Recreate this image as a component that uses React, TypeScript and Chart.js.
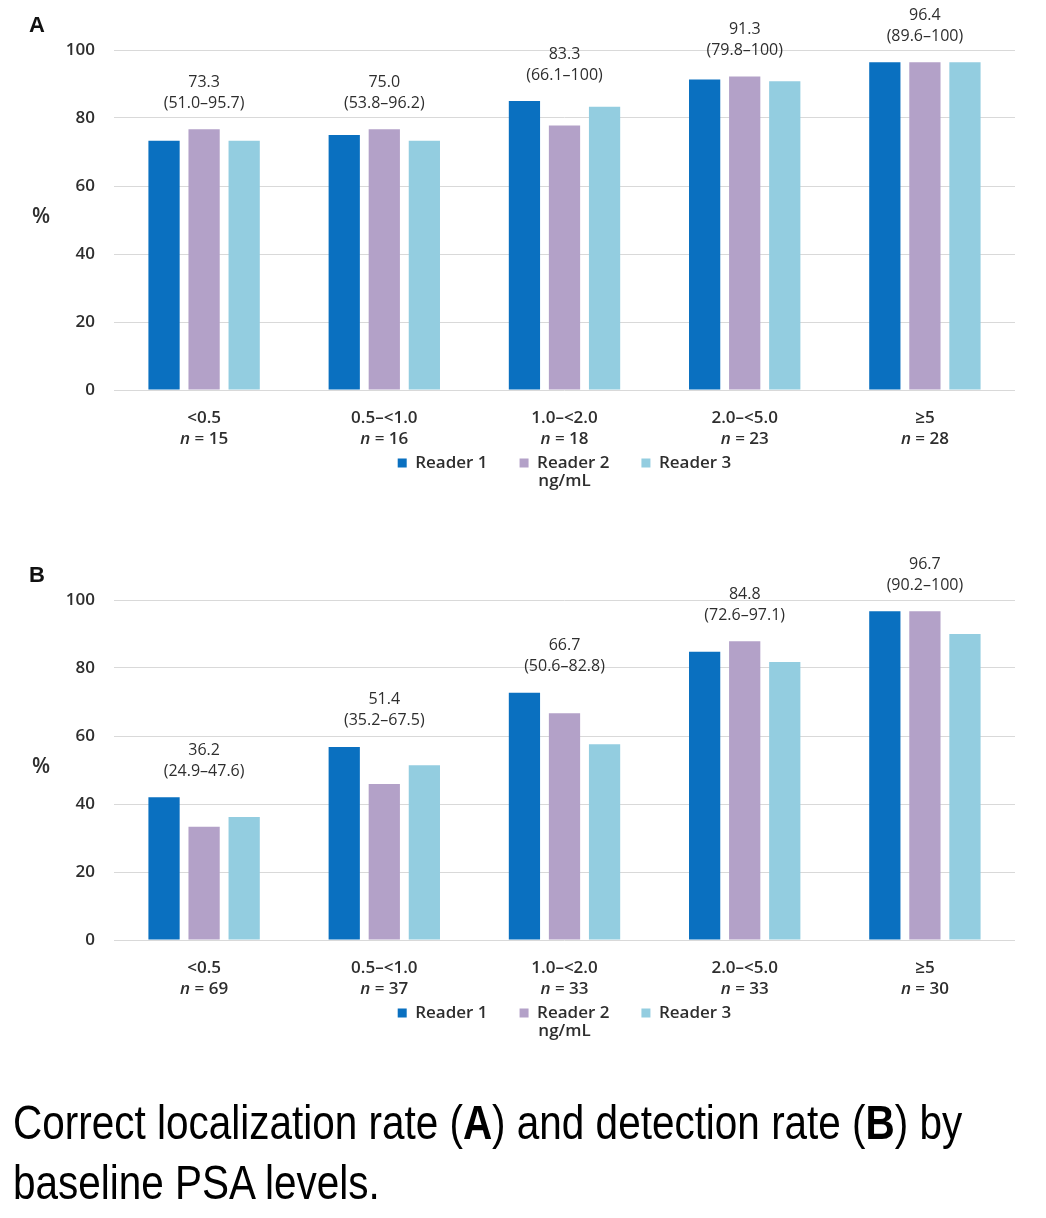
import React, { useEffect, useRef } from "react";
import { Chart, registerables } from "chart.js";

Chart.register(...registerables);

// ---------- data ----------
const categories = ["<0.5", "0.5–<1.0", "1.0–<2.0", "2.0–<5.0", "≥5"];
const readerNames = ["Reader 1", "Reader 2", "Reader 3"];
const yTickValues = [0, 20, 40, 60, 80, 100];

// Panel A: correct localization rate (%)
const aCounts = ["15", "16", "18", "23", "28"];
const aReader1 = [73.3, 75.0, 85.0, 91.3, 96.4];
const aReader2 = [76.7, 76.7, 77.8, 92.2, 96.4];
const aReader3 = [73.3, 73.3, 83.3, 90.8, 96.4];
const aRates = ["73.3", "75.0", "83.3", "91.3", "96.4"];
const aCIs = ["(51.0–95.7)", "(53.8–96.2)", "(66.1–100)", "(79.8–100)", "(89.6–100)"];

// Panel B: detection rate (%)
const bCounts = ["69", "37", "33", "33", "30"];
const bReader1 = [42.0, 56.8, 72.7, 84.8, 96.7];
const bReader2 = [33.3, 45.9, 66.7, 87.9, 96.7];
const bReader3 = [36.2, 51.4, 57.6, 81.8, 90.0];
const bRates = ["36.2", "51.4", "66.7", "84.8", "96.7"];
const bCIs = ["(24.9–47.6)", "(35.2–67.5)", "(50.6–82.8)", "(72.6–97.1)", "(90.2–100)"];

const unitLabel = "ng/mL";
const yLabel = "%";
const captionLine1 = ["Correct localization rate (", "A", ") and detection rate (", "B", ") by"];
const captionLine2 = "baseline PSA levels.";

// ---------- styles ----------
const COLORS = ["#0a70c0", "#b3a1c8", "#93cde0"];
const TEXT = "#2e2e2e";
const GRID = "#d9d9d9";
const FONT = '"Open Sans", sans-serif';

type PanelProps = {
  letter: string;
  r1: number[];
  r2: number[];
  r3: number[];
  rates: string[];
  cis: string[];
  counts: string[];
  top: number;
};

function Panel({ letter, r1, r2, r3, rates, cis, counts, top }: PanelProps) {
  const ref = useRef<HTMLCanvasElement>(null);

  useEffect(() => {
    const canvas = ref.current;
    if (!canvas) return;

    const overlay = {
      id: "overlay" + letter,
      afterDraw(chart: any) {
        const ctx = chart.ctx as CanvasRenderingContext2D;
        const xs = chart.scales.x;
        const ys = chart.scales.y;
        const area = chart.chartArea;
        ctx.save();
        ctx.fillStyle = TEXT;
        ctx.textBaseline = "middle";
        ctx.textAlign = "center";

        // rate + CI annotations above each group
        ctx.font = `500 16px ${FONT}`;
        categories.forEach((_, i) => {
          const maxV = Math.max(
            ...chart.data.datasets.map((d: any) => d.data[i] as number)
          );
          const barTop = ys.getPixelForValue(maxV);
          const x = xs.getPixelForValue(i);
          ctx.fillText(rates[i], x, barTop - 47);
          ctx.fillText(cis[i], x, barTop - 26);
        });

        // category labels + n
        categories.forEach((c, i) => {
          const x = xs.getPixelForValue(i);
          ctx.textAlign = "center";
          ctx.font = `600 17px ${FONT}`;
          ctx.fillText(c, x, area.bottom + 28);
          const rest = " = " + counts[i];
          ctx.font = `italic 600 17px ${FONT}`;
          const wN = ctx.measureText("n").width;
          ctx.font = `600 17px ${FONT}`;
          const wR = ctx.measureText(rest).width;
          const start = x - (wN + wR) / 2;
          ctx.textAlign = "left";
          ctx.font = `italic 600 17px ${FONT}`;
          ctx.fillText("n", start, area.bottom + 49);
          ctx.font = `600 17px ${FONT}`;
          ctx.fillText(rest, start + wN, area.bottom + 49);
        });

        // unit title under legend
        ctx.textAlign = "center";
        ctx.font = `600 17px ${FONT}`;
        ctx.fillText(unitLabel, (area.left + area.right) / 2, area.bottom + 91);

        // y label
        ctx.font = `600 21px ${FONT}`;
        ctx.fillText(yLabel, 41, (area.top + area.bottom) / 2 - 3);

        // panel letter
        ctx.font = `bold 22px "Liberation Sans", Arial, sans-serif`;
        ctx.fillStyle = "#111111";
        ctx.fillText(letter, 37, 26);
        ctx.restore();
      },
    };

    const series = [r1, r2, r3];
    const chart = new Chart(canvas, {
      type: "bar",
      data: {
        labels: categories,
        datasets: series.map((d, k) => ({
          label: readerNames[k],
          data: d,
          backgroundColor: COLORS[k],
          borderWidth: 0,
          categoryPercentage: 0.667,
          barPercentage: 0.78,
        })),
      },
      options: {
        animation: false,
        responsive: false,
        maintainAspectRatio: false,
        layout: { padding: { top: 50, bottom: 68.5, left: 0, right: 31 } },
        font: { family: FONT },
        scales: {
          x: {
            grid: { display: false, drawTicks: false },
            border: { display: false },
            ticks: { display: false },
            afterFit: (s: any) => {
              s.height = 32.5;
            },
          },
          y: {
            min: 0,
            max: 100,
            afterBuildTicks: (s: any) => {
              s.ticks = yTickValues.map((v) => ({ value: v }));
            },
            ticks: {
              padding: 19,
              color: TEXT,
              font: { family: FONT, size: 17, weight: 600 },
            },
            grid: { color: GRID, lineWidth: 1, drawTicks: false },
            border: { display: false },
            afterFit: (s: any) => {
              s.width = 114;
            },
          },
        },
        plugins: {
          legend: {
            position: "bottom",
            fullSize: false,
            labels: {
              boxWidth: 9,
              boxHeight: 9,
              padding: 32,
              color: TEXT,
              font: { family: FONT, size: 17, weight: 600 },
            },
          },
          tooltip: { enabled: false },
        },
      } as any,
      plugins: [overlay],
    });
    return () => chart.destroy();
  }, []);

  return (
    <canvas
      ref={ref}
      width={1046}
      height={550}
      style={{ position: "absolute", left: 0, top, display: "block" }}
    />
  );
}

export default function App() {
  return (
    <div
      style={{
        position: "absolute",
        left: 0,
        top: 0,
        width: 1046,
        height: 1218,
        background: "#ffffff",
        overflow: "hidden",
      }}
    >
      <Panel letter="A" r1={aReader1} r2={aReader2} r3={aReader3} rates={aRates} cis={aCIs} counts={aCounts} top={0} />
      <Panel letter="B" r1={bReader1} r2={bReader2} r3={bReader3} rates={bRates} cis={bCIs} counts={bCounts} top={550} />
      <div
        style={{
          position: "absolute",
          left: 13,
          top: 1092,
          fontFamily: '"Liberation Sans", Arial, sans-serif',
          fontSize: 49,
          lineHeight: "60px",
          color: "#000",
          whiteSpace: "nowrap",
          transform: "scaleX(0.826)",
          transformOrigin: "left top",
        }}
      >
        <div>
          {captionLine1[0]}
          <b>{captionLine1[1]}</b>
          {captionLine1[2]}
          <b>{captionLine1[3]}</b>
          {captionLine1[4]}
        </div>
        <div>{captionLine2}</div>
      </div>
    </div>
  );
}
